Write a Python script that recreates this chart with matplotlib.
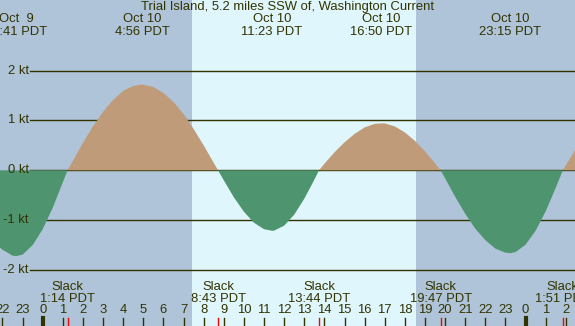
import matplotlib
matplotlib.use("Agg")
import matplotlib.pyplot as plt
import numpy as np

plt.rcParams['font.family'] = ['Liberation Sans', 'DejaVu Sans']

# current speed (hours after Oct 10 00:00 PDT, knots)
hours = [-2.15, -2.0, -1.5, -1.32, -1.0, -0.5, 0.0, 0.5, 1.0, 1.233,
         1.5, 2.0, 2.5, 3.0, 3.5, 4.0, 4.5, 4.933, 5.5, 6.0, 6.5, 7.0, 7.5, 8.0, 8.5, 8.717,
         9.0, 9.5, 10.0, 10.5, 11.0, 11.383, 11.5, 12.0, 12.5, 13.0, 13.5, 13.733,
         14.0, 14.5, 15.0, 15.5, 16.0, 16.5, 16.833, 17.0, 17.5, 18.0, 18.5, 19.0, 19.5, 19.783,
         20.0, 20.5, 21.0, 21.5, 22.0, 22.5, 23.0, 23.25, 23.5, 24.0, 24.5, 25.0, 25.5, 25.85,
         26.0, 26.5]
speed = [-1.54, -1.59, -1.71, -1.72, -1.69, -1.50, -1.18, -0.75, -0.24, 0.0,
         0.19, 0.55, 0.88, 1.17, 1.41, 1.59, 1.69, 1.72, 1.67, 1.55, 1.37, 1.13, 0.83, 0.50, 0.15, 0.0,
         -0.20, -0.54, -0.83, -1.05, -1.18, -1.21, -1.21, -1.11, -0.89, -0.57, -0.19, 0.0,
         0.13, 0.36, 0.56, 0.73, 0.86, 0.93, 0.94, 0.94, 0.88, 0.76, 0.59, 0.38, 0.14, 0.0,
         -0.16, -0.53, -0.87, -1.17, -1.40, -1.57, -1.65, -1.66, -1.64, -1.49, -1.21, -0.82, -0.35, 0.0,
         0.10, 0.43]

# max flood / max ebb labels along the top
peak_hours = [-1.32, 4.933, 11.383, 16.833, 23.25]
peak_dates = ["Oct  9", "Oct 10", "Oct 10", "Oct 10", "Oct 10"]
peak_times = ["22:41 PDT", "4:56 PDT", "11:23 PDT", "16:50 PDT", "23:15 PDT"]

# slack water
slack_hours = [1.233, 8.717, 13.733, 19.783, 25.85]
slack_times = ["1:14 PDT", "8:43 PDT", "13:44 PDT", "19:47 PDT", "1:51 PDT"]

sunrise = 7.42
sunset = 18.55
kt_lines = [-2, -1, 0, 1, 2]

night = "#afc4d9"
day = "#dff6fd"
flood = "#bf9b7a"
ebb = "#4e946f"
ink = "#333300"
fs = 9.4

# pixel layout of the original image
px_per_hr = 20.12
x0 = 42.7        # pixel of midnight Oct 10
y0 = 170.3       # pixel of 0 kt
px_per_kt = 49.9

def py2kt(py):
    return (y0 - py) / px_per_kt

t_left = -x0 / px_per_hr
t_right = (575 - x0) / px_per_hr

fig = plt.figure(figsize=(5.75, 3.26), dpi=100)
ax = fig.add_axes([0, 0, 1, 1])
ax.set_xlim(t_left, t_right)
ax.set_ylim(py2kt(326), py2kt(0))
ax.axis('off')

# day / night background
ax.axvspan(t_left, sunrise, color=night, lw=0, zorder=0)
ax.axvspan(sunrise, sunset, color=day, lw=0, zorder=0)
ax.axvspan(sunset, t_right, color=night, lw=0, zorder=0)

# knot grid lines and labels
x_line = t_left + 30 / px_per_hr
for k in kt_lines:
    ax.plot([x_line, t_right], [k, k], color=ink, lw=1, zorder=1)
    ax.text(t_left + 28.5 / px_per_hr, k, "%d kt" % k, ha='right', va='center',
            fontsize=fs, color=ink)

# flood / ebb fill
h = np.array(hours)
s = np.array(speed)
ax.fill_between(h, 0, s, where=s >= 0, color=flood, lw=0, interpolate=True, zorder=2)
ax.fill_between(h, 0, s, where=s <= 0, color=ebb, lw=0, interpolate=True, zorder=2)

# title and peak labels
ax.text((t_left + t_right) / 2, py2kt(7), "Trial Island, 5.2 miles SSW of, Washington Current",
        ha='center', va='center', fontsize=fs, color=ink)
for ph, d, t in zip(peak_hours, peak_dates, peak_times):
    ax.text(ph, py2kt(19), d, ha='center', va='center', fontsize=fs, color=ink)
    ax.text(ph, py2kt(32), t, ha='center', va='center', fontsize=fs, color=ink)

# slack labels
for sh, t in zip(slack_hours, slack_times):
    ax.text(sh, py2kt(287.5), "Slack", ha='center', va='center', fontsize=fs, color=ink)
    ax.text(sh, py2kt(299.5), t, ha='center', va='center', fontsize=fs, color=ink)
    ax.plot([sh, sh], [py2kt(318), py2kt(326)], color='red', lw=1, zorder=3)

# hour ticks along the bottom
for hr in range(-2, 27):
    ax.text(hr, py2kt(310), str(hr % 24), ha='center', va='center', fontsize=fs, color=ink)
    w = 3 if hr % 24 == 0 else 1
    ax.plot([hr, hr], [py2kt(318), py2kt(326)], color=ink, lw=w, zorder=3)

plt.savefig("out.png", dpi=100)
